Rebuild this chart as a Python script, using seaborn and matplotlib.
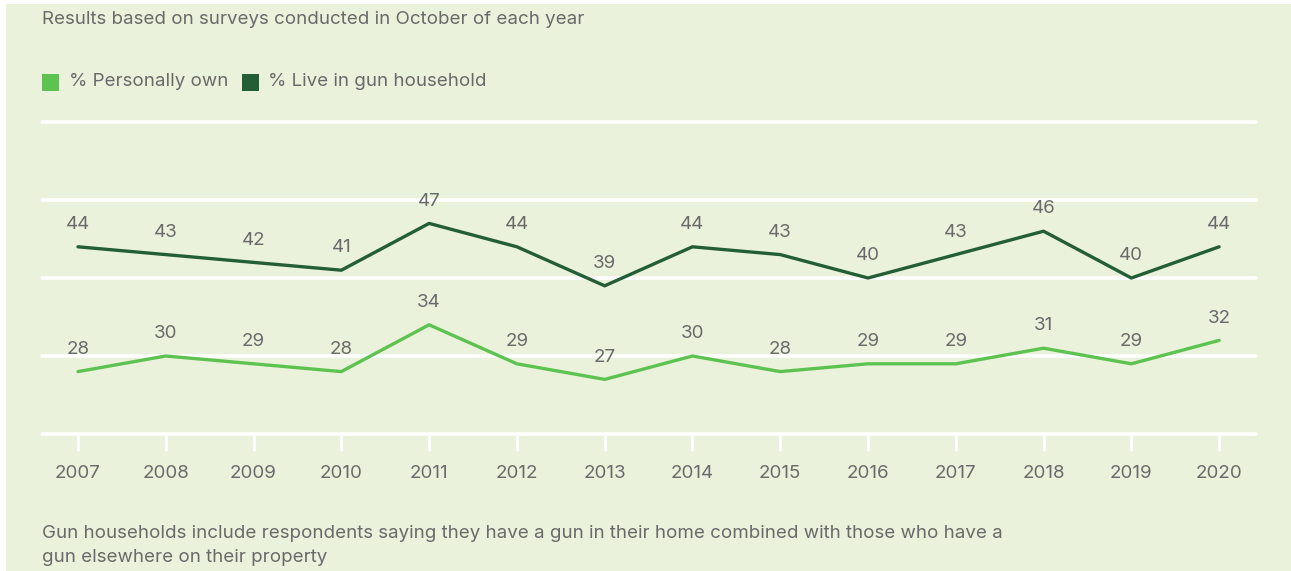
import matplotlib
matplotlib.use("Agg")
import matplotlib.pyplot as plt
import seaborn as sns
import pandas as pd
from matplotlib.patches import Rectangle

years = [2007, 2008, 2009, 2010, 2011, 2012, 2013, 2014, 2015, 2016, 2017, 2018, 2019, 2020]
personally_own = [28, 30, 29, 28, 34, 29, 27, 30, 28, 29, 29, 31, 29, 32]
gun_household = [44, 43, 42, 41, 47, 44, 39, 44, 43, 40, 43, 46, 40, 44]
series_names = ["% Personally own", "% Live in gun household"]
y_ticks = [20, 30, 40, 50, 60]

BG = "#EBF2DC"
LIGHT = "#5DC350"
DARK = "#245E36"
TEXT = "#6A6A6A"
FS = 13.5

sns.set_theme(style="white")
plt.rcParams["font.family"] = ["Inter", "DejaVu Sans"]

W, H = 1291, 571
fig = plt.figure(figsize=(W / 100, H / 100), dpi=100, facecolor="white")
fig.patches.append(Rectangle((6 / W, 0), 1 - 6 / W, 1 - 4 / H, transform=fig.transFigure,
                             facecolor=BG, edgecolor="none", zorder=-10))

left, right, top, bottom = 42, 1256, 122, 434
ax = fig.add_axes([left / W, 1 - bottom / H, (right - left) / W, (bottom - top) / H])
ax.set_zorder(2)
ax.set_facecolor("none")

df = pd.DataFrame({
    "year": years * 2,
    "value": personally_own + gun_household,
    "series": [series_names[0]] * len(years) + [series_names[1]] * len(years),
})
sns.lineplot(data=df, x="year", y="value", hue="series", palette=[LIGHT, DARK],
             linewidth=2.4, ax=ax, legend=False, zorder=3)

for vals in (personally_own, gun_household):
    for x, v in zip(years, vals):
        ax.annotate(str(v), (x, v), xytext=(0, 16), textcoords="offset points",
                    ha="center", va="center", fontsize=FS, color=TEXT)

ax.set_xlim(years[0] - 0.41, years[-1] + 0.42)
ax.set_ylim(y_ticks[0], y_ticks[-1])
ax.set_yticks(y_ticks)
ax.set_yticklabels([])
ax.grid(axis="y", color="white", linewidth=2.6, zorder=1)
ax.grid(axis="x", visible=False)
for gl in ax.get_ygridlines():
    gl.set_clip_on(False)
ax.set_axisbelow(True)
for s in ax.spines.values():
    s.set_visible(False)
ax.set_xticks(years)
ax.set_xticklabels([str(y) for y in years], fontsize=FS, color=TEXT)
ax.tick_params(axis="x", length=12, width=2, color="white", pad=10, bottom=True)
ax.tick_params(axis="y", length=0)
ax.set_xlabel("")
ax.set_ylabel("")

fig.text(42 / W, 1 - 20 / H, "Results based on surveys conducted in October of each year",
         fontsize=FS, color=TEXT, va="center", ha="left")

# legend
for sx, tx, col, name in [(42, 69, LIGHT, series_names[0]), (242, 268, DARK, series_names[1])]:
    fig.patches.append(Rectangle((sx / W, 1 - 91 / H), 17 / W, 17 / H, transform=fig.transFigure,
                                 facecolor=col, edgecolor="none", zorder=2))
    fig.text(tx / W, 1 - 82 / H, name, fontsize=FS, color=TEXT, va="center", ha="left")

fig.text(42 / W, 1 - 533 / H,
         "Gun households include respondents saying they have a gun in their home combined with those who have a",
         fontsize=FS, color=TEXT, va="center", ha="left")
fig.text(42 / W, 1 - 557 / H, "gun elsewhere on their property",
         fontsize=FS, color=TEXT, va="center", ha="left")

fig.savefig("out.png", dpi=100, facecolor="white")
